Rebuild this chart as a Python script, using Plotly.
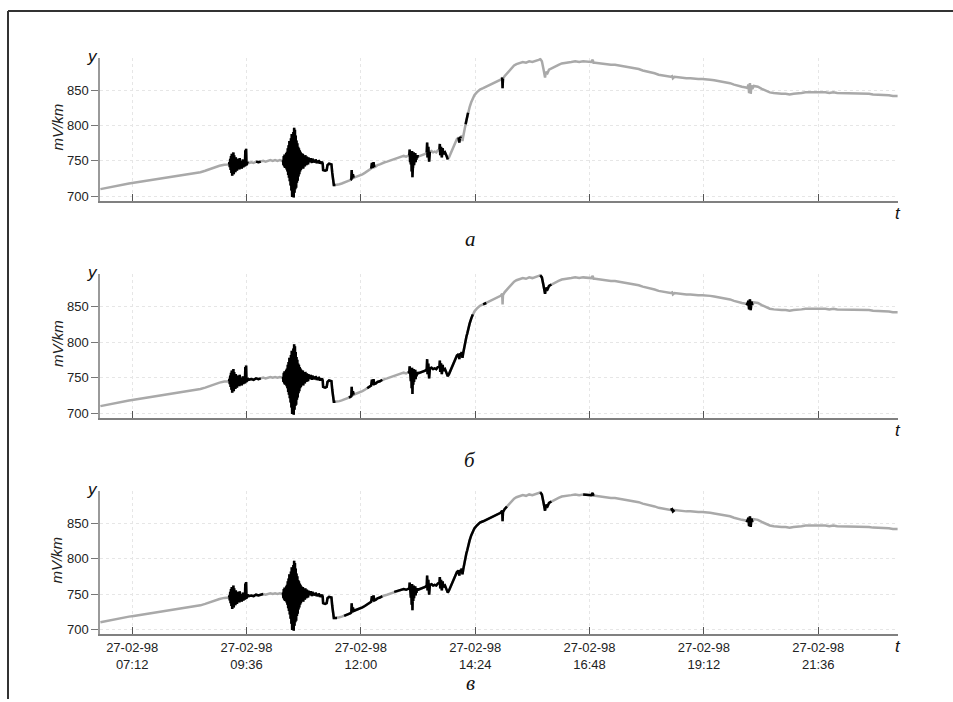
import datetime as dt
import plotly.graph_objects as go

# ---------------- data (minutes after midnight, 27-02-98; values in mV/km) ----------------
RISE1_T = [392, 398, 404, 410, 416, 422, 428, 434, 440, 446, 452, 458, 464, 470, 476, 482,
           488, 494, 500, 506, 512, 518, 524, 530, 536, 542, 548]
RISE1_V = [710, 711.5, 713, 714, 715.5, 716.5, 718, 719, 720, 721, 722, 723, 724, 725,
           726, 727, 728, 729, 730, 731, 732.5, 734, 736, 738.5, 741, 743, 744.5]

BURST1_START = 554
BURST1_V = [745, 748, 741, 753, 737, 757, 733, 760, 729, 756, 735, 762, 731, 758, 739, 752,
            734, 755, 742, 749, 736, 753, 740, 747, 744, 751, 738, 754, 741, 746, 743, 750,
            739, 748, 745, 752, 741, 747, 744, 749, 742, 765, 743, 767, 744, 748, 746, 749]

QUIET2_T = [579, 582, 585, 588, 591, 594, 597, 600, 603, 606, 609, 612, 615, 618, 621]
QUIET2_V = [747, 748, 747, 749, 748, 749, 750, 749, 750, 751, 750, 751, 750, 751, 750]

BURST2_START = 622
BURST2_V = [751, 744, 757, 742, 759, 740, 756, 745, 761, 738, 763, 735,
            768, 730, 772, 726, 778, 721, 775, 715, 782, 708,
            788, 699, 785, 703, 791, 698, 797, 705, 794, 710, 786, 712, 779, 719,
            775, 722, 770, 728, 768, 731, 765, 735, 763, 737,
            761, 741, 758, 743, 760, 739, 757, 744, 755, 742, 758, 746, 754, 744, 756, 747,
            753, 745, 755, 748,
            753, 749, 752, 748, 754, 749, 751, 747, 753, 750, 752, 748, 751, 749, 750, 748,
            752, 749, 751, 747, 750, 748, 749, 747, 751, 748, 750, 746, 749, 747, 748, 746,
            749, 747]

STEP_T = [672, 672.5, 675, 677, 678, 680, 683, 684, 685, 686, 688]
STEP_V = [746, 737, 736, 737, 744, 746, 745, 733, 720, 716, 716]

RISE2_T = [690, 693, 696, 699, 702, 705, 707, 708, 708.5, 709, 710, 711, 713, 716, 719, 722,
           725, 728, 731, 733, 734, 735, 736, 737, 739, 741, 744, 747, 750, 753, 756, 759,
           762, 765, 768, 771, 774, 777, 779]
RISE2_V = [716, 717, 718, 719, 720, 722, 723, 724, 737, 725, 731, 726, 727, 728, 729, 731,
           733, 735, 737, 739, 747, 740, 748, 741, 742, 744, 745, 747, 748, 749, 750, 751,
           753, 754, 755, 756, 757, 756, 757]

BURST3_START = 781
BURST3_V = [758, 766, 748, 763, 745, 760, 735, 764, 727, 752, 740, 762, 744, 758, 750, 761,
            748, 757, 752, 756, 754, 758, 756]

RISE3_T = [795, 798, 801, 803, 803.5, 804, 805, 806, 807, 809, 811, 813, 815, 817, 819,
           819.5, 820, 821, 822, 823, 824, 826, 828, 829.5, 831, 833, 835, 837, 839, 841,
           843, 844, 845]
RISE3_V = [757, 759, 760, 762, 776, 755, 770, 749, 763, 764, 762, 763, 762, 765, 766,
           774, 758, 770, 755, 768, 760, 762, 757, 752, 755, 760, 765, 772, 777, 781,
           783, 776, 784]

LATE_T = [846, 847, 848, 849, 850, 851, 852, 853, 854, 855, 857, 859, 861, 863, 866, 870,
          874, 878, 881, 884, 887, 890, 893, 896, 898, 898.5, 899, 901, 904, 907, 910, 913,
          916, 920, 924, 928, 932, 936, 940, 944, 946, 948, 950, 951, 952, 953, 955, 957,
          960, 965, 969, 973, 977, 981, 985, 990, 995, 1000, 1005, 1010, 1012, 1013, 1015,
          1020, 1025, 1030, 1035, 1040, 1045, 1050, 1055, 1060, 1065, 1070, 1075, 1080,
          1085, 1090, 1095, 1100, 1105, 1110, 1112, 1113, 1115, 1120, 1125, 1130, 1135,
          1140, 1145, 1150, 1155, 1160, 1165, 1170, 1175, 1180, 1185, 1190, 1195, 1200,
          1205, 1207, 1208, 1209, 1210, 1211, 1212, 1213, 1215, 1220, 1225, 1230, 1235,
          1240, 1245, 1250, 1255, 1260, 1265, 1270, 1275, 1280, 1285, 1290, 1295, 1300,
          1305, 1310, 1315, 1320, 1325, 1330, 1335, 1340, 1345, 1350, 1355, 1360, 1365,
          1370, 1375, 1380, 1385, 1390, 1396]
LATE_V = [782, 786, 778, 785, 792, 796, 802, 808, 812, 818, 826, 833, 839, 843, 847, 851,
          853, 855, 857, 858, 860, 862, 863, 865, 868, 853, 866, 870, 874, 878, 882, 885,
          887, 889, 890, 889, 891, 890, 891, 893, 894, 891, 880, 870, 868, 876, 874, 879,
          881, 884, 886, 888, 889, 890, 890, 891, 890, 891, 890, 890, 893, 889, 889,
          888, 887, 887, 886, 886, 885, 884, 884, 883, 882, 880, 878, 877,
          876, 874, 872, 871, 870, 869, 870, 867, 869, 868, 868, 867, 867,
          866, 866, 866, 866, 865, 864, 863, 862, 862, 860, 858, 856, 855,
          854, 853, 858, 846, 860, 845, 857, 852, 856, 855, 852, 849, 847,
          846, 845, 845, 845, 844, 845, 845, 846, 847, 847, 848, 848, 847,
          847, 846, 847, 846, 846, 846, 845, 845, 846, 846, 845, 845, 844,
          844, 844, 843, 843, 842, 842]

# black (highlighted) intervals for each panel, in minutes
BLACK_A = [(526, 532), (554, 578), (588, 594), (622, 688), (707, 711), (733, 738),
           (781, 792), (802, 808), (818, 829.5), (843, 846), (852, 856), (897, 900)]
BLACK_B = [(554, 594), (622, 688), (705, 712), (728, 748), (778, 862),
           (872, 880), (946, 960), (1205, 1214)]
BLACK_C = [(526, 532), (554, 599), (620, 690), (698, 748), (761, 905), (946, 960),
           (1000, 1013), (1110, 1116), (1205, 1214)]

PANEL_LABELS = ["а", "б", "в"]
Y_TICKS = [700, 750, 800, 850]
X_TICK_MIN = [432, 576, 720, 864, 1008, 1152, 1296]
X_TICK_TEXT = ["27-02-98<br>07:12", "27-02-98<br>09:36", "27-02-98<br>12:00",
               "27-02-98<br>14:24", "27-02-98<br>16:48", "27-02-98<br>19:12",
               "27-02-98<br>21:36"]

# ---------------- assemble series ----------------
T, V = [], []
T += RISE1_T; V += RISE1_V
T += [BURST1_START + 0.5 * i for i in range(len(BURST1_V))]; V += BURST1_V
T += QUIET2_T; V += QUIET2_V
T += [BURST2_START + 0.5 * i for i in range(len(BURST2_V))]; V += BURST2_V
T += STEP_T; V += STEP_V
T += RISE2_T; V += RISE2_V
T += [BURST3_START + 0.5 * i for i in range(len(BURST3_V))]; V += BURST3_V
T += RISE3_T; V += RISE3_V
T += LATE_T; V += LATE_V

BASE = dt.datetime(1998, 2, 27)
def tdt(m):
    return BASE + dt.timedelta(minutes=m)

X = [tdt(m) for m in T]

def black_series(intervals):
    out = []
    for m, v in zip(T, V):
        out.append(v if any(a <= m <= b for a, b in intervals) else None)
    return out

W, H = 953, 702
def px(x):
    return x / W
def py(y):
    return 1 - y / H

# panel pixel boxes (top, bottom)
PANELS = [(58, 202), (275, 420), (493, 637)]
X0, X1 = 100, 898

fig = go.Figure()
GRAY = "#a9a9a9"
for i, blk in enumerate([BLACK_A, BLACK_B, BLACK_C]):
    n = "" if i == 0 else str(i + 1)
    fig.add_trace(go.Scatter(x=X, y=V, mode="lines", line=dict(color=GRAY, width=2.5),
                             xaxis="x" + n, yaxis="y" + n, showlegend=False, hoverinfo="skip"))
    fig.add_trace(go.Scatter(x=X, y=black_series(blk), mode="lines",
                             line=dict(color="#000000", width=2.5), connectgaps=False,
                             xaxis="x" + n, yaxis="y" + n, showlegend=False, hoverinfo="skip"))

layout = dict(width=W, height=H, autosize=False, margin=dict(l=0, r=0, t=0, b=0),
              paper_bgcolor="white", plot_bgcolor="white",
              font=dict(family="Liberation Sans, Arial, sans-serif", size=13, color="#222"))
for i, (top, bot) in enumerate(PANELS):
    n = "" if i == 0 else str(i + 1)
    layout["xaxis" + n] = dict(
        domain=[px(X0), px(X1)], range=[tdt(391.5), tdt(1396.5)], anchor="y" + n,
        tickvals=[tdt(m) for m in X_TICK_MIN], ticktext=X_TICK_TEXT,
        showticklabels=(i == 2), ticks="inside", ticklen=7, tickcolor="#555", tickwidth=1,
        showline=True, linecolor="#808080", linewidth=2,
        showgrid=True, gridcolor="#e6e6e6", griddash="dot", gridwidth=1,
        zeroline=False, tickfont=dict(size=13, color="#222"))
    layout["yaxis" + n] = dict(
        domain=[py(bot), py(top)], range=[693, 896], anchor="x" + n,
        tickvals=Y_TICKS, ticks="outside", ticklen=7, tickcolor="#777", tickwidth=1,
        showline=True, linecolor="#9a9a9a", linewidth=1.5,
        showgrid=True, gridcolor="#e6e6e6", griddash="dot", gridwidth=1,
        zeroline=False, tickfont=dict(size=13, color="#222"))
fig.update_layout(**layout)

ann = []
for i, (top, bot) in enumerate(PANELS):
    ann.append(dict(x=px(92), y=py(top - 1), xref="paper", yref="paper", text="<i>y</i>",
                    xanchor="center", yanchor="middle",
                    showarrow=False, font=dict(size=17, color="#111")))
    ann.append(dict(x=px(898), y=py(bot + 12), xref="paper", yref="paper", text="<i>t</i>",
                    xanchor="center", yanchor="middle",
                    showarrow=False, font=dict(size=17, color="#111")))
    ann.append(dict(x=px(57), y=py((top + bot) / 2 - 2), xref="paper", yref="paper",
                    text="<i>mV/km</i>", textangle=-90, showarrow=False,
                    xanchor="center", yanchor="middle",
                    font=dict(size=15, color="#222")))
LABEL_Y = [240, 462, 686]
for lab, yy in zip(PANEL_LABELS, LABEL_Y):
    ann.append(dict(x=px(470), y=py(yy), xref="paper", yref="paper", text="<i>" + lab + "</i>",
                    showarrow=False, xanchor="center", yanchor="middle",
                    font=dict(family="Liberation Serif, Times New Roman, serif", size=21,
                              color="#111")))
fig.update_layout(annotations=ann)

fig.update_layout(shapes=[
    dict(type="line", xref="paper", yref="paper", x0=px(8), x1=1, y0=py(11), y1=py(11),
         line=dict(color="#333", width=2)),
    dict(type="line", xref="paper", yref="paper", x0=px(8), x1=px(8), y0=py(11), y1=0,
         line=dict(color="#333", width=2)),
])

fig.write_html("out.html", config={"displayModeBar": False},
               post_script="document.body.style.margin='0px';document.body.style.overflow='hidden';")
